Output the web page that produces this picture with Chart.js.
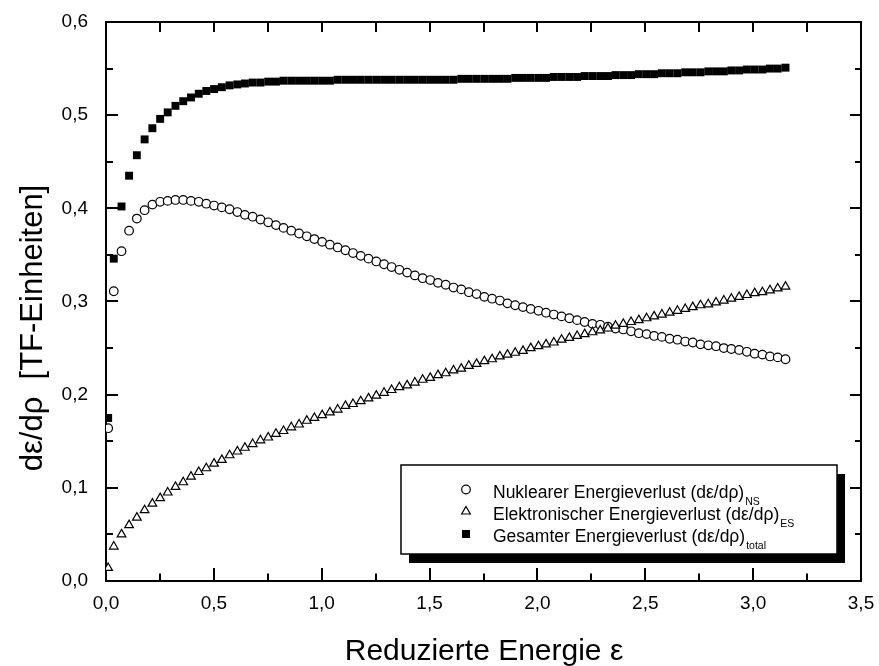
<!DOCTYPE html>
<html>
<head>
<meta charset="utf-8">
<script src="https://cdn.jsdelivr.net/npm/chart.js@4.4.1/dist/chart.umd.min.js"></script>
<style>
  html, body { margin: 0; padding: 0; background: #fff; }
  #wrap { width: 879px; height: 666px; }
</style>
</head>
<body>
<div id="wrap"><canvas id="chart" width="879" height="666"></canvas></div>
<script>
// reduzierte Energie ε
const energy = [
  0.010, 0.036, 0.072, 0.107, 0.143, 0.179, 0.215, 0.251, 0.286, 0.322,
  0.358, 0.394, 0.430, 0.465, 0.501, 0.537, 0.573, 0.609, 0.644, 0.680,
  0.716, 0.752, 0.788, 0.823, 0.859, 0.895, 0.931, 0.966, 1.002, 1.038,
  1.074, 1.110, 1.145, 1.181, 1.217, 1.253, 1.289, 1.324, 1.360, 1.396,
  1.432, 1.468, 1.503, 1.539, 1.575, 1.611, 1.647, 1.682, 1.718, 1.754,
  1.790, 1.826, 1.861, 1.897, 1.933, 1.969, 2.005, 2.040, 2.076, 2.112,
  2.148, 2.184, 2.219, 2.255, 2.291, 2.327, 2.362, 2.398, 2.434, 2.470,
  2.506, 2.541, 2.577, 2.613, 2.649, 2.685, 2.720, 2.756, 2.792, 2.828,
  2.864, 2.899, 2.935, 2.971, 3.007, 3.043, 3.078, 3.114, 3.150
];

// nuklearer Energieverlust (dε/dρ)NS
const nuclear = [
  0.164, 0.311, 0.354, 0.376, 0.389, 0.398, 0.404, 0.407, 0.408, 0.409,
  0.409, 0.408, 0.407, 0.405, 0.403, 0.401, 0.399, 0.396, 0.393, 0.391,
  0.388, 0.385, 0.382, 0.379, 0.376, 0.373, 0.370, 0.367, 0.364, 0.361,
  0.358, 0.355, 0.352, 0.349, 0.346, 0.343, 0.340, 0.337, 0.334, 0.331,
  0.328, 0.325, 0.323, 0.320, 0.318, 0.315, 0.313, 0.310, 0.308, 0.305,
  0.303, 0.301, 0.298, 0.296, 0.294, 0.292, 0.290, 0.288, 0.286, 0.284,
  0.282, 0.280, 0.278, 0.276, 0.275, 0.273, 0.271, 0.270, 0.268, 0.266,
  0.265, 0.263, 0.262, 0.260, 0.259, 0.257, 0.256, 0.254, 0.253, 0.252,
  0.250, 0.249, 0.248, 0.246, 0.244, 0.243, 0.241, 0.240, 0.238
];

// elektronischer Energieverlust (dε/dρ)ES
const electronic = [
  0.014, 0.037, 0.050, 0.060, 0.068, 0.076, 0.083, 0.089, 0.095, 0.101,
  0.106, 0.112, 0.117, 0.121, 0.126, 0.130, 0.135, 0.139, 0.143, 0.147,
  0.151, 0.154, 0.158, 0.161, 0.165, 0.168, 0.172, 0.175, 0.178, 0.181,
  0.184, 0.188, 0.190, 0.193, 0.196, 0.199, 0.202, 0.205, 0.208, 0.210,
  0.213, 0.216, 0.218, 0.221, 0.223, 0.226, 0.228, 0.231, 0.233, 0.236,
  0.238, 0.241, 0.243, 0.245, 0.247, 0.250, 0.252, 0.254, 0.256, 0.259,
  0.261, 0.263, 0.265, 0.267, 0.269, 0.271, 0.274, 0.276, 0.278, 0.280,
  0.282, 0.284, 0.286, 0.288, 0.290, 0.292, 0.294, 0.296, 0.297, 0.299,
  0.301, 0.303, 0.305, 0.307, 0.309, 0.310, 0.312, 0.314, 0.316
];

// gesamter Energieverlust (dε/dρ)total
const total = [
  0.175, 0.346, 0.402, 0.435, 0.457, 0.474, 0.486, 0.496, 0.503, 0.510,
  0.515, 0.519, 0.523, 0.526, 0.528, 0.530, 0.532, 0.533, 0.534, 0.535,
  0.535, 0.536, 0.536, 0.537, 0.537, 0.537, 0.537, 0.537, 0.537, 0.537,
  0.538, 0.538, 0.538, 0.538, 0.538, 0.538, 0.538, 0.538, 0.538, 0.538,
  0.538, 0.538, 0.538, 0.538, 0.538, 0.538, 0.539, 0.539, 0.539, 0.539,
  0.539, 0.539, 0.539, 0.540, 0.540, 0.540, 0.540, 0.540, 0.541, 0.541,
  0.541, 0.541, 0.542, 0.542, 0.542, 0.542, 0.543, 0.543, 0.543, 0.544,
  0.544, 0.544, 0.545, 0.545, 0.545, 0.546, 0.546, 0.546, 0.547, 0.547,
  0.547, 0.548, 0.548, 0.549, 0.549, 0.549, 0.550, 0.550, 0.551
];

const xTickLabels = ["0,0", "0,5", "1,0", "1,5", "2,0", "2,5", "3,0", "3,5"];
const yTickLabels = ["0,0", "0,1", "0,2", "0,3", "0,4", "0,5", "0,6"];
const legendTexts = [
  ["Nuklearer Energieverlust (dε/dρ)", "NS"],
  ["Elektronischer Energieverlust (dε/dρ)", "ES"],
  ["Gesamter Energieverlust (dε/dρ)", "total"]
];
const xTitle = "Reduzierte Energie ε";
const yTitle = "dε/dρ  [TF-Einheiten]";

const FONT = "'Liberation Sans', Arial, sans-serif";
Chart.defaults.font.family = FONT;
Chart.defaults.color = "#000";

const toPoints = (ys) => energy.map((x, i) => ({ x: x, y: ys[i] }));

// Rahmen + nach innen zeigende Ticks auf allen vier Seiten
const framePlugin = {
  id: "frame",
  beforeDatasetsDraw(chart) {
    const { ctx, chartArea: a, scales: { x, y } } = chart;
    ctx.save();
    ctx.strokeStyle = "#000";
    ctx.lineWidth = 2;
    ctx.strokeRect(a.left, a.top, a.right - a.left, a.bottom - a.top);
    ctx.beginPath();
    for (let k = 0; k <= 14; k++) {
      const px = Math.round(x.getPixelForValue(k * 0.25));
      const len = k % 2 === 0 ? 13 : 7.5;
      ctx.moveTo(px, a.bottom);
      ctx.lineTo(px, a.bottom - len);
      ctx.moveTo(px, a.top);
      ctx.lineTo(px, a.top + 10);
    }
    for (let k = 0; k <= 12; k++) {
      const py = Math.round(y.getPixelForValue(k * 0.05));
      const len = k % 2 === 0 ? 12 : 7;
      ctx.moveTo(a.left, py);
      ctx.lineTo(a.left + len, py);
      ctx.moveTo(a.right, py);
      ctx.lineTo(a.right - (k % 2 === 0 ? 11 : 6), py);
    }
    ctx.stroke();
    ctx.restore();
  },
  afterDraw(chart) {
    const { ctx } = chart;
    ctx.save();
    // Achsentitel
    ctx.fillStyle = "#000";
    ctx.font = "30px " + FONT;
    ctx.textAlign = "center";
    ctx.textBaseline = "alphabetic";
    ctx.fillText(xTitle, 484, 660);
    ctx.font = "31px " + FONT;
    ctx.translate(42, 328);
    ctx.rotate(-Math.PI / 2);
    ctx.fillText(yTitle, 0, 0);
    ctx.restore();

    // Legende mit Schatten
    ctx.save();
    const bx = 401, by = 465, bw = 436, bh = 89;
    ctx.fillStyle = "#000";
    ctx.fillRect(bx + 8, by + 9, bw, bh);
    ctx.fillStyle = "#fff";
    ctx.fillRect(bx, by, bw, bh);
    ctx.strokeStyle = "#000";
    ctx.lineWidth = 1.5;
    ctx.strokeRect(bx, by, bw, bh);

    const sx = 466;
    const baselines = [498, 520, 542];
    // Kreis
    ctx.lineWidth = 1.2;
    ctx.beginPath();
    ctx.arc(sx, 489.5, 4.3, 0, Math.PI * 2);
    ctx.fillStyle = "#fff";
    ctx.fill();
    ctx.stroke();
    // Dreieck
    const r = 5, ty = 511.5;
    ctx.beginPath();
    ctx.moveTo(sx, ty - r);
    ctx.lineTo(sx + r * Math.sin(2 * Math.PI / 3), ty - r * Math.cos(2 * Math.PI / 3));
    ctx.lineTo(sx + r * Math.sin(4 * Math.PI / 3), ty - r * Math.cos(4 * Math.PI / 3));
    ctx.closePath();
    ctx.fill();
    ctx.stroke();
    // Quadrat
    ctx.fillStyle = "#000";
    ctx.fillRect(sx - 4, 534 - 4, 8, 8);

    ctx.textAlign = "left";
    ctx.textBaseline = "alphabetic";
    legendTexts.forEach((t, i) => {
      ctx.font = "17.5px " + FONT;
      ctx.fillText(t[0], 493, baselines[i]);
      const w = ctx.measureText(t[0]).width;
      ctx.font = "10.5px " + FONT;
      ctx.fillText(t[1], 493 + w + 1, baselines[i] + 7);
    });
    ctx.restore();
  }
};

new Chart(document.getElementById("chart"), {
  type: "scatter",
  data: {
    datasets: [
      {
        label: "NS",
        data: toPoints(nuclear),
        pointStyle: "circle",
        pointRadius: 4.3,
        borderWidth: 1.2,
        borderColor: "#000",
        backgroundColor: "#fff",
        order: 3
      },
      {
        label: "ES",
        data: toPoints(electronic),
        pointStyle: "triangle",
        pointRadius: 5,
        borderWidth: 1.2,
        borderColor: "#000",
        backgroundColor: "#fff",
        order: 2
      },
      {
        label: "total",
        data: toPoints(total),
        pointStyle: "rect",
        pointRadius: 5.6,
        borderWidth: 0,
        borderColor: "#000",
        backgroundColor: "#000",
        order: 1
      }
    ]
  },
  options: {
    responsive: false,
    animation: false,
    layout: { padding: { top: 22, right: 18, left: 0, bottom: 0 } },
    plugins: { legend: { display: false }, tooltip: { enabled: false } },
    scales: {
      x: {
        type: "linear",
        min: 0,
        max: 3.5,
        afterFit: (s) => { s.height = 85; s.paddingLeft = 0; s.paddingRight = 0; },
        afterBuildTicks: (s) => { s.ticks = xTickLabels.map((_, i) => ({ value: i * 0.5 })); },
        grid: { display: false, drawTicks: false },
        border: { display: false },
        ticks: {
          padding: 11,
          maxRotation: 0,
          autoSkip: false,
          font: { size: 19 },
          color: "#000",
          callback: (v, i) => xTickLabels[i]
        }
      },
      y: {
        type: "linear",
        min: 0,
        max: 0.6,
        afterFit: (s) => { s.width = 106; s.paddingTop = 0; s.paddingBottom = 0; },
        afterBuildTicks: (s) => { s.ticks = yTickLabels.map((_, i) => ({ value: i * 0.1 })); },
        grid: { display: false, drawTicks: false },
        border: { display: false },
        ticks: {
          padding: 18,
          autoSkip: false,
          font: { size: 19 },
          color: "#000",
          callback: (v, i) => yTickLabels[i]
        }
      }
    }
  },
  plugins: [framePlugin]
});
</script>
</body>
</html>
